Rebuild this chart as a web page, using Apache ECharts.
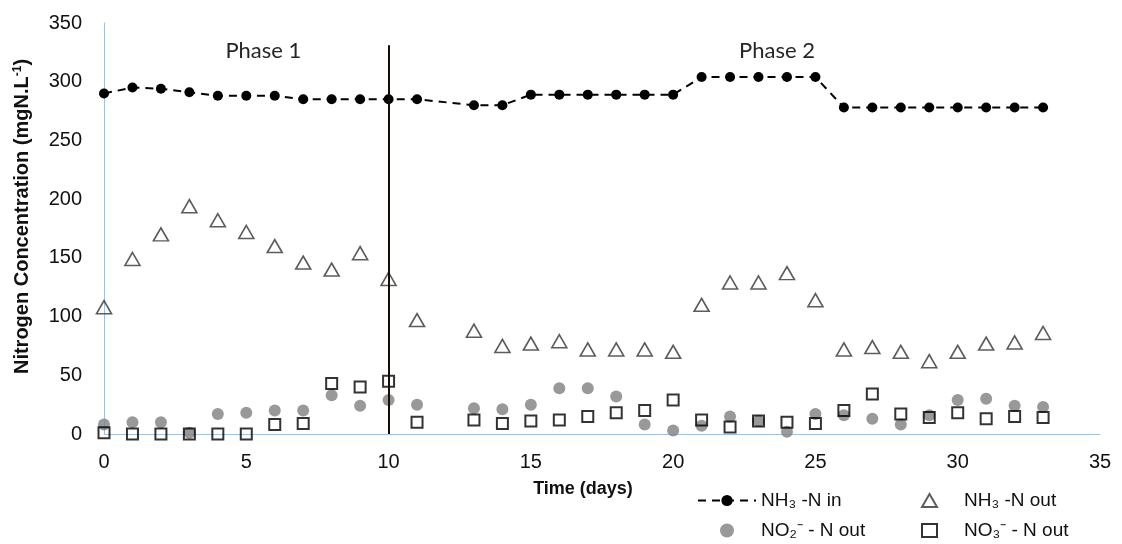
<!DOCTYPE html>
<html>
<head>
<meta charset="utf-8">
<script src="https://cdn.jsdelivr.net/npm/echarts@6/dist/echarts.min.js"></script>
<style>
  html, body { margin: 0; padding: 0; background: #fff; }
  #chart { width: 1122px; height: 544px; }
</style>
</head>
<body>
<div id="chart"></div>
<script>
// sampling days (no sample on day 12)
const days = [0, 1, 2, 3, 4, 5, 6, 7, 8, 9, 10, 11, 13, 14, 15, 16, 17, 18, 19, 20, 21, 22, 23, 24, 25, 26, 27, 28, 29, 30, 31, 32, 33]
const nh3In = [290, 295, 294, 291, 288, 288, 288, 285, 285, 285, 285, 285, 280, 280, 289, 289, 289, 289, 289, 289, 304, 304, 304, 304, 304, 278, 278, 278, 278, 278, 278, 278, 278]
const nh3Out = [108, 149, 170, 194, 182, 172, 160, 146, 140, 154, 132, 97, 88, 75, 77, 79, 72, 72, 72, 70, 110, 129, 129, 137, 114, 72, 74, 70, 62, 70, 77, 78, 86]
const no2Out = [8, 10, 10, 1, 17, 18, 20, 20, 33, 24, 29, 25, 22, 21, 25, 39, 39, 32, 8, 3, 7, 15, 11, 2, 17, 16, 13, 8, 16, 29, 30, 24, 23]
const no3Out = [1, 0, 0, 0, 0, 0, 8, 9, 43, 40, 45, 10, 12, 9, 11, 12, 15, 18, 20, 29, 12, 6, 11, 10, 9, 20, 34, 17, 14, 18, 13, 15, 14]
const seriesNames = ['NH₃ -N in', 'NH₃ -N out', 'NO₂⁻ - N out', 'NO₃⁻ - N out']
const phaseNames = ['Phase 1', 'Phase 2']
const xTicks = [0, 35, 5]   // min, max, interval
const yTicks = [0, 350, 50]

const pairs = vals => days.map((d, i) => [d, vals[i]])

const font = "'Liberation Sans', Arial, sans-serif"
const axisBlue = '#9fc3e0'
const legendText = { fontSize: 19, color: '#111' }

const chart = echarts.init(document.getElementById('chart'))
chart.setOption({
  animation: false,
  textStyle: { fontFamily: font },
  grid: { left: 104, right: 22, top: 23, bottom: 110 },
  xAxis: {
    type: 'value',
    min: xTicks[0],
    max: xTicks[1],
    interval: xTicks[2],
    name: 'Time (days)',
    nameLocation: 'middle',
    nameGap: 46,
    nameTextStyle: { fontSize: 18, fontWeight: 'bold', color: '#111', padding: [0, 38, 0, 0], verticalAlign: 'top' },
    axisLine: { lineStyle: { color: axisBlue, width: 1 } },
    axisTick: { show: false },
    splitLine: { show: false },
    axisLabel: { fontSize: 20, color: '#111', margin: 18 }
  },
  yAxis: {
    type: 'value',
    min: yTicks[0],
    max: yTicks[1],
    interval: yTicks[2],
    name: 'Nitrogen Concentration (mgN.L{sup|-1})',
    nameLocation: 'middle',
    nameGap: 71,
    nameTextStyle: {
      fontSize: 20,
      fontWeight: 'bold',
      color: '#111',
      padding: [0, 0, 0, 24],
      rich: {
        sup: { fontSize: 12, fontWeight: 'bold', color: '#111', verticalAlign: 'top', padding: [0, 0, 9, 0] }
      }
    },
    axisLine: { show: true, lineStyle: { color: axisBlue, width: 1 } },
    axisTick: { show: false },
    splitLine: { show: false },
    axisLabel: { fontSize: 20, color: '#111', margin: 22 }
  },
  legend: [
    {
      data: [seriesNames[0], seriesNames[2]],
      orient: 'vertical',
      left: 692,
      top: 486,
      height: 70,
      itemWidth: 58,
      itemHeight: 14,
      itemGap: 11,
      textStyle: legendText
    },
    {
      data: [seriesNames[1], seriesNames[3]],
      orient: 'vertical',
      left: 916,
      top: 486,
      height: 70,
      itemWidth: 15,
      itemHeight: 13,
      itemGap: 11,
      textStyle: Object.assign({ padding: [0, 0, 0, 22] }, legendText)
    }
  ],
  series: [
    {
      name: seriesNames[0],
      type: 'line',
      data: pairs(nh3In),
      symbol: 'circle',
      symbolSize: 10,
      itemStyle: { color: '#000' },
      lineStyle: { color: '#000', width: 2, type: [8, 6] },
      z: 3,
      markLine: {
        silent: true,
        symbol: ['none', 'none'],
        label: { show: false },
        lineStyle: { color: '#1a0a05', width: 2, type: 'solid' },
        data: [[{ coord: [10, 0] }, { coord: [10, 331] }]]
      }
    },
    {
      name: seriesNames[1],
      type: 'scatter',
      data: pairs(nh3Out),
      symbol: 'triangle',
      symbolSize: [15, 13],
      itemStyle: { color: 'rgba(255,255,255,0)', borderColor: '#333', borderWidth: 1.6 },
      markPoint: {
        silent: true,
        symbol: 'rect',
        symbolSize: 1,
        itemStyle: { color: 'rgba(255,255,255,0)', borderWidth: 0 },
        label: {
          show: true,
          position: 'inside',
          fontFamily: 'Lato, sans-serif',
          fontSize: 22,
          color: '#262626',
          formatter: p => p.name
        },
        data: [
          { name: phaseNames[0], coord: [5.6, 326] },
          { name: phaseNames[1], coord: [23.65, 326] }
        ]
      }
    },
    {
      name: seriesNames[2],
      type: 'scatter',
      data: pairs(no2Out),
      symbol: 'circle',
      symbolSize: 12,
      itemStyle: { color: '#7f7f7f' }
    },
    {
      name: seriesNames[3],
      type: 'scatter',
      data: pairs(no3Out),
      symbol: 'rect',
      symbolSize: 11,
      itemStyle: { color: 'rgba(255,255,255,0)', borderColor: '#000', borderWidth: 2 },
      z: 4
    }
  ]
})
</script>
</body>
</html>
